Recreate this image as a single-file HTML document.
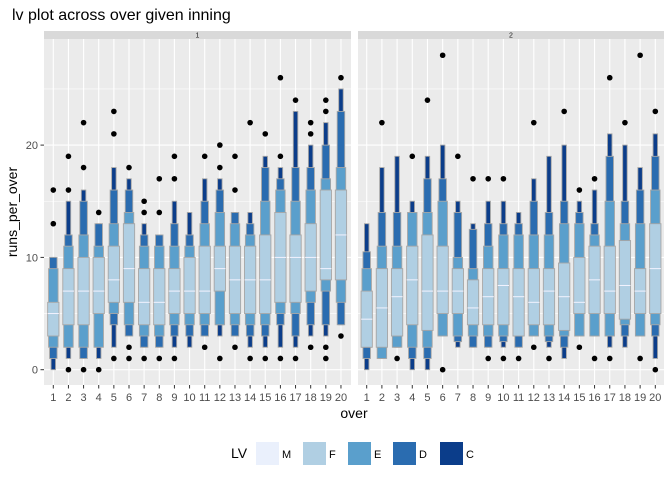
<!DOCTYPE html>
<html><head><meta charset="utf-8"><style>
html,body{margin:0;padding:0;background:#fff;}
svg{display:block;font-family:"Liberation Sans",sans-serif;}
</style></head><body>
<svg id="s" width="672" height="480" xmlns="http://www.w3.org/2000/svg"></svg>
<script>
const Y=v=>369.7-11.23*v;
const P1=[[5,[3,6],[2,9],[1,10],[0,10],[13,16]],
[7,[4,9],[2,11],[2,12],[1,15],[0,16,19]],
[7,[4,10],[2,12],[1,15],[1,16],[0,18,22]],
[7,[5,10],[2,11],[2,13],[1,13],[0,14]],
[8,[6,11],[5,13],[4,16],[2,18],[1,21,23]],
[9,[6,13],[4,14],[3,16],[3,17],[1,2,18]],
[6,[4,9],[3,11],[2,12],[2,13],[1,14,15]],
[6,[4,9],[3,11],[2,12],[2,12],[1,14,17]],
[7,[5,9],[4,11],[3,13],[2,15],[1,17,19]],
[7,[5,10],[4,11],[3,12],[2,14],[]],
[7,[5,11],[4,13],[3,15],[3,17],[2,19]],
[9,[7,11],[4,14],[4,16],[3,17],[1,18,20]],
[8,[5,11],[4,13],[3,14],[3,14],[2,16,19]],
[8,[5,11],[4,12],[3,13],[2,14],[1,22]],
[8,[5,12],[4,15],[3,18],[2,19],[1,21]],
[10,[6,14],[5,16],[4,17],[2,18],[1,19,26]],
[10,[6,12],[5,15],[3,18],[2,23],[1,24]],
[10,[7,13],[6,16],[4,18],[3,20],[2,21,22]],
[9,[8,16],[7,17],[4,20],[3,22],[1,2,23,24]],
[12,[8,16],[6,18],[4,23],[4,25],[3,26]]];
const P2=[[4.5,[2,7],[2,9],[1,10.5],[0,13],[]],
[5.5,[2,9],[1,11],[1,14],[1,18],[22]],
[6.5,[3,9],[2,11],[2,14],[2,19],[1]],
[8,[4,11],[2,14],[1,14],[0,15],[19]],
[7,[3.5,12],[2,14],[1,17],[0,19],[24]],
[7,[5,11],[3,15],[3,17],[3,20],[0,28]],
[7,[5,9],[3,10],[2.5,14],[2,15],[19]],
[5.5,[4,8],[3,9],[2,12.5],[2,13],[17]],
[6.5,[4,9],[3,11],[2,13],[2,15],[1,17]],
[7.5,[4,9],[3,12],[2.5,13],[2,15],[1,17]],
[6.5,[3,9],[3,12],[2,13],[2,14],[1]],
[6,[4,9],[3,12],[3,15],[3,17],[2,22]],
[7,[4,9],[3,12],[2.5,14],[2,19],[1]],
[6.5,[3.5,9.5],[3,13],[2,15],[1,20],[23]],
[6,[5,10],[3,13],[3,14],[3,15],[2,16]],
[8,[5,11],[3,12],[3,13],[3,16],[1,17]],
[7,[5,11],[3,15],[3,19],[2,21],[1,26]],
[7.5,[4.5,11.5],[4,13],[3,15],[2,20],[22]],
[7,[5,9],[3,13],[3,16],[3,18],[1,28]],
[9,[5,13],[4,16],[3,19],[1,21],[0,23]]];
let h='';
function panel(x0,x1,c1,sp,data,lab){
 h+=`<rect x="${x0}" y="31" width="${x1-x0}" height="8" fill="#d9d9d9"/>`;
 h+=`<text x="${(x0+x1)/2}" y="37.5" font-size="7" fill="#1a1a1a" text-anchor="middle">${lab}</text>`;
 h+=`<rect x="${x0}" y="39" width="${x1-x0}" height="346" fill="#ebebeb"/>`;
 for(const v of [5,15,25]) h+=`<line x1="${x0}" x2="${x1}" y1="${Y(v)}" y2="${Y(v)}" stroke="#fff" stroke-width="0.55"/>`;
 for(const v of [0,10,20]) h+=`<line x1="${x0}" x2="${x1}" y1="${Y(v)}" y2="${Y(v)}" stroke="#fff" stroke-width="1.1"/>`;
 for(let i=0;i<20;i++){const x=c1+sp*i;
  h+=`<line x1="${x}" x2="${x}" y1="39" y2="385" stroke="#fff" stroke-width="1.1"/>`;
  h+=`<line x1="${x}" x2="${x}" y1="385" y2="388.5" stroke="#333" stroke-width="1"/>`;
  h+=`<text x="${x}" y="401" font-size="11" fill="#4d4d4d" text-anchor="middle">${i+1}</text>`;}
 data.forEach((d,i)=>{const x=c1+sp*i;
  const lv=[[d[4],4.5,'#0b3d8a'],[d[3],7.5,'#2a6cb0'],[d[2],9.5,'#5a9fcc'],[d[1],11.3,'#b0cfe3']];
  for(const [r,w,c] of lv){h+=`<rect x="${x-w/2}" y="${Y(r[1])}" width="${w}" height="${Y(r[0])-Y(r[1])}" fill="${c}" stroke="#a6a6a6" stroke-width="0.9"/>`;}
  h+=`<line x1="${x-5.6}" x2="${x+5.6}" y1="${Y(d[0])}" y2="${Y(d[0])}" stroke="#f3f3ff" stroke-width="1"/>`;
  for(const o of d[5]) h+=`<circle cx="${x}" cy="${Y(o)}" r="2.8" fill="#000"/>`;
 });
}
panel(44,351,53.3,15.14,P1,'1');
panel(358,664,366.7,15.19,P2,'2');
for(const v of [0,10,20]){h+=`<line x1="40.5" x2="44" y1="${Y(v)}" y2="${Y(v)}" stroke="#333"/>`;
 h+=`<text x="38" y="${Y(v)+4}" font-size="11" fill="#4d4d4d" text-anchor="end">${v}</text>`;}
h+=`<text x="12" y="20" font-size="16" fill="#000">lv plot across over given inning</text>`;
h+=`<text x="354" y="418" font-size="14" fill="#000" text-anchor="middle">over</text>`;
h+=`<text transform="translate(17,212) rotate(-90)" font-size="14" fill="#000" text-anchor="middle">runs_per_over</text>`;
h+=`<text x="239" y="458" font-size="14" fill="#000" text-anchor="middle">LV</text>`;
const L=[['M','#eaf0fc',256],['F','#b0cfe3',303],['E','#5a9fcc',348],['D','#2a6cb0',393],['C','#0b3d8a',440]];
for(const [t,c,x] of L){h+=`<rect x="${x}" y="442" width="23" height="23" fill="${c}"/>`;
 h+=`<text x="${x+26}" y="458" font-size="11" fill="#000">${t}</text>`;}
document.getElementById('s').innerHTML=h;
</script>
</body></html>
